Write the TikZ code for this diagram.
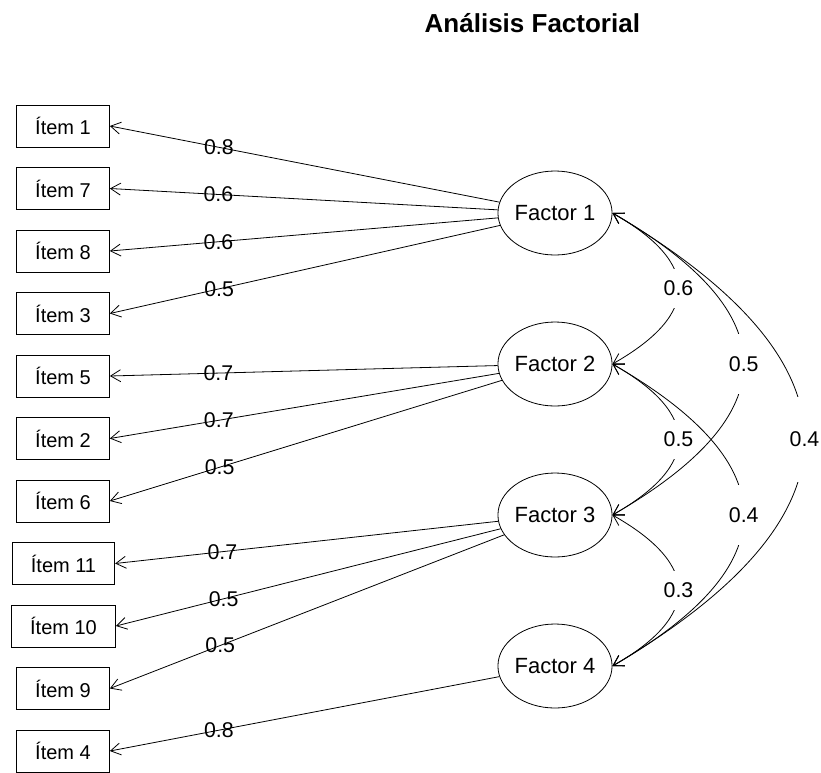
\documentclass[tikz,border=0pt]{standalone}
\usepackage{fontspec}
\setmainfont{Liberation Sans}
\usetikzlibrary{arrows.meta,shapes.geometric}
\begin{document}
\begin{tikzpicture}[x=0.75pt,y=-0.75pt,
    >={Straight Barb[length=7.5pt,width=9pt]},
    item/.style={draw,rectangle,line width=0.6pt,inner xsep=14pt,minimum height=31.5pt,font=\fontsize{15}{17}\selectfont},
    factor/.style={draw,ellipse,line width=0.6pt,inner sep=0pt,minimum width=81pt,minimum height=63pt,font=\fontsize{16.5}{18}\selectfont},
    load/.style={->,line width=0.6pt},
    loadlab/.style={pos=.72,inner sep=0pt,font=\fontsize{16}{18}\selectfont},
    corr/.style={<->,line width=0.6pt},
    corrlab/.style={midway,fill=white,inner xsep=1pt,inner ysep=#1,font=\fontsize{16}{18}\selectfont}]

    \useasboundingbox (0,0) rectangle (821,772);

    % Title
    \node[anchor=base west,font=\bfseries\fontsize{19.5}{22}\selectfont] (title) at (420,32) {Análisis Factorial};

    % Items
    \node[item] (i1) at (63,126) {Ítem 1};
    \node[item] (i7) at (63,188.5) {Ítem 7};
    \node[item] (i8) at (63,251) {Ítem 8};
    \node[item] (i3) at (63,313.5) {Ítem 3};
    \node[item] (i5) at (63,376) {Ítem 5};
    \node[item] (i2) at (63,438.5) {Ítem 2};
    \node[item] (i6) at (63,501) {Ítem 6};
    \node[item] (i11) at (63.5,563.5) {Ítem 11};
    \node[item] (i10) at (63.5,626) {Ítem 10};
    \node[item] (i9) at (63,688.5) {Ítem 9};
    \node[item] (i4) at (63,751) {Ítem 4};

    % Factors
    \node[factor] (f1) at (555,213) {Factor 1};
    \node[factor] (f2) at (555,364) {Factor 2};
    \node[factor] (f3) at (555,515) {Factor 3};
    \node[factor] (f4) at (555,666) {Factor 4};

    % Loadings
    \draw[load] (f1) -- node[loadlab] {0.8} (i1.east);
    \draw[load] (f1) -- node[loadlab] {0.6} (i7.east);
    \draw[load] (f1) -- node[loadlab] {0.6} (i8.east);
    \draw[load] (f1) -- node[loadlab] {0.5} (i3.east);
    \draw[load] (f2) -- node[loadlab] {0.7} (i5.east);
    \draw[load] (f2) -- node[loadlab] {0.7} (i2.east);
    \draw[load] (f2) -- node[loadlab] {0.5} (i6.east);
    \draw[load] (f3) -- node[loadlab] {0.7} (i11.east);
    \draw[load] (f3) -- node[loadlab] {0.5} (i10.east);
    \draw[load] (f3) -- node[loadlab] {0.5} (i9.east);
    \draw[load] (f4) -- node[loadlab] {0.8} (i4.east);

    % Factor correlations
    \draw[corr] (f1.east) .. controls +(88,50) and +(88,-50) .. node[corrlab=9pt] {0.6} (f2.east);
    \draw[corr] (f2.east) .. controls +(88,50) and +(88,-50) .. node[corrlab=9pt] {0.5} (f3.east);
    \draw[corr] (f3.east) .. controls +(88,50) and +(88,-50) .. node[corrlab=9pt] {0.3} (f4.east);
    \draw[corr] (f1.east) .. controls +(175,101) and +(175,-101) .. node[corrlab=17pt] {0.5} (f3.east);
    \draw[corr] (f2.east) .. controls +(175,101) and +(175,-101) .. node[corrlab=17pt] {0.4} (f4.east);
    \draw[corr] (f1.east) .. controls +(256,151) and +(256,-151) .. node[corrlab=26pt] {0.4} (f4.east);

\end{tikzpicture}
\end{document}
